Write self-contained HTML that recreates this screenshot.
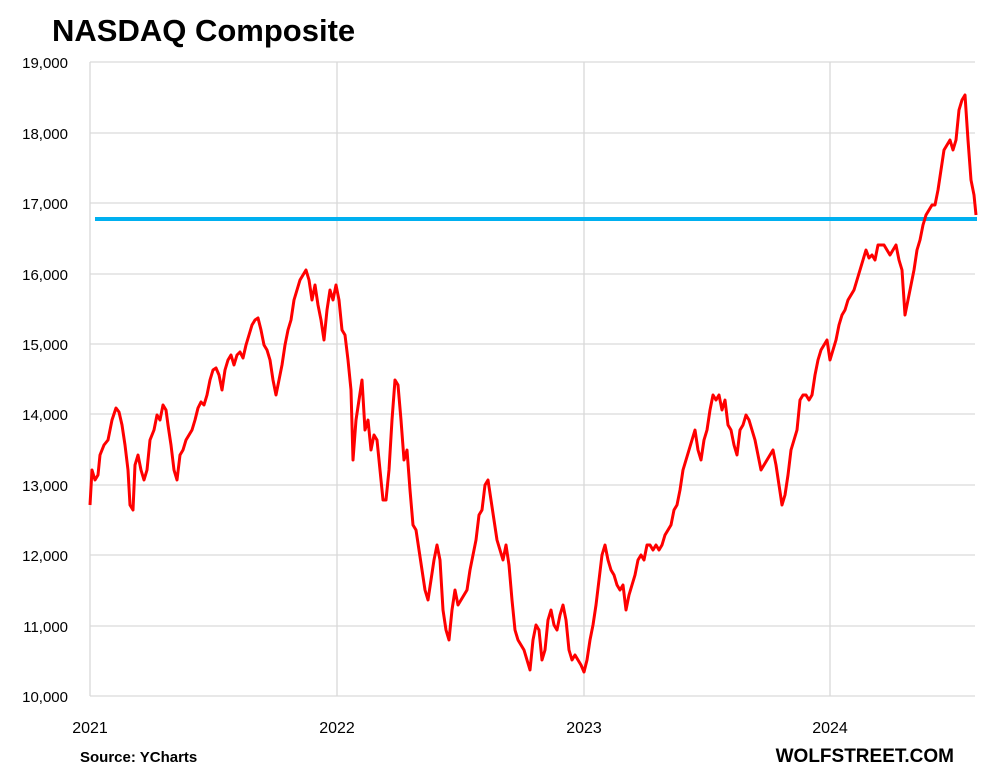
<!DOCTYPE html>
<html><head><meta charset="utf-8"><style>
body{margin:0;background:#fff;}
svg{display:block;font-family:"Liberation Sans",Arial,sans-serif;}
</style></head><body>
<svg width="982" height="777" viewBox="0 0 982 777">
<rect width="982" height="777" fill="#fff"/>
<text x="52" y="41" font-size="31" font-weight="bold" fill="#000">NASDAQ Composite</text>
<g stroke="#d9d9d9" stroke-width="1.3">
<line x1="90" y1="62" x2="975" y2="62"/>
<line x1="90" y1="133" x2="975" y2="133"/>
<line x1="90" y1="203" x2="975" y2="203"/>
<line x1="90" y1="274" x2="975" y2="274"/>
<line x1="90" y1="344" x2="975" y2="344"/>
<line x1="90" y1="414" x2="975" y2="414"/>
<line x1="90" y1="485" x2="975" y2="485"/>
<line x1="90" y1="555" x2="975" y2="555"/>
<line x1="90" y1="626" x2="975" y2="626"/>
<line x1="90" y1="62" x2="90" y2="696"/>
<line x1="337" y1="62" x2="337" y2="696"/>
<line x1="584" y1="62" x2="584" y2="696"/>
<line x1="830" y1="62" x2="830" y2="696"/>
</g>
<line x1="90" y1="696" x2="975" y2="696" stroke="#d9d9d9" stroke-width="1.3"/>
<g font-size="15" fill="#000" text-anchor="end">
<text x="68" y="68">19,000</text>
<text x="68" y="139">18,000</text>
<text x="68" y="209">17,000</text>
<text x="68" y="280">16,000</text>
<text x="68" y="350">15,000</text>
<text x="68" y="420">14,000</text>
<text x="68" y="491">13,000</text>
<text x="68" y="561">12,000</text>
<text x="68" y="632">11,000</text>
<text x="68" y="702">10,000</text>
</g>
<g font-size="16" fill="#000" text-anchor="middle">
<text x="90" y="733">2021</text>
<text x="337" y="733">2022</text>
<text x="584" y="733">2023</text>
<text x="830" y="733">2024</text>
</g>
<line x1="95" y1="219" x2="977" y2="219" stroke="#00b0f0" stroke-width="4"/>
<polyline fill="none" stroke="#ff0000" stroke-width="3" stroke-linejoin="round" points="90,505 92,470 95,480 98,475 100,455 104,445 108,440 112,420 116,408 119,412 122,425 125,445 128,470 130,505 133,510 135,465 138,455 141,470 144,480 147,470 150,440 154,430 157,415 160,420 163,405 166,410 168,425 171,445 174,470 177,480 180,455 183,450 186,440 189,435 192,430 195,420 198,408 201,402 204,405 207,395 210,380 213,370 216,368 219,375 222,390 225,370 228,360 231,355 234,365 237,355 240,352 243,358 246,345 249,335 252,325 255,320 258,318 261,330 264,345 267,350 270,360 273,380 276,395 279,380 282,365 285,345 288,330 291,320 294,300 297,290 300,280 303,275 306,270 309,280 312,300 315,285 318,305 321,320 324,340 327,310 330,290 333,300 336,285 339,300 342,330 345,335 348,360 351,390 353,460 356,420 359,400 362,380 365,430 368,420 371,450 374,435 377,440 380,470 383,500 386,500 389,470 392,420 395,380 398,385 401,420 404,460 407,450 410,490 413,525 416,530 419,550 422,570 425,590 428,600 431,580 434,560 437,545 440,560 443,610 446,630 449,640 452,610 455,590 458,605 461,600 464,595 467,590 470,570 473,555 476,540 479,515 482,510 485,485 488,480 491,500 494,520 497,540 500,550 503,560 506,545 509,565 512,600 515,630 518,640 521,645 524,650 527,660 530,670 533,640 536,625 539,630 542,660 545,650 548,620 551,610 554,625 557,630 560,615 563,605 566,620 569,650 572,660 575,655 578,660 581,665 584,672 587,660 590,640 593,625 596,605 599,580 602,555 605,545 608,560 611,570 614,575 617,585 620,590 623,585 626,610 629,595 632,585 635,575 638,560 641,555 644,560 647,545 650,545 653,550 656,545 659,550 662,545 665,535 668,530 671,525 674,510 677,505 680,490 683,470 686,460 689,450 692,440 695,430 698,450 701,460 704,440 707,430 710,410 713,395 716,400 719,395 722,410 725,400 728,425 731,430 734,445 737,455 740,430 743,425 746,415 749,420 752,430 755,440 758,455 761,470 764,465 767,460 770,455 773,450 776,465 779,485 782,505 785,495 788,475 791,450 794,440 797,430 800,400 803,395 806,395 809,400 812,395 815,375 818,360 821,350 824,345 827,340 830,360 833,350 836,340 839,325 842,315 845,310 848,300 851,295 854,290 857,280 860,270 863,260 866,250 869,258 872,255 875,260 878,245 881,245 884,245 887,250 890,255 893,250 896,245 899,260 902,270 905,315 908,300 911,285 914,270 917,250 920,240 923,225 926,215 929,210 932,205 935,205 938,190 941,170 944,150 947,145 950,140 953,150 956,140 959,110 962,100 965,95 968,140 971,180 974,195 976,215"/>
<text x="80" y="762" font-size="15" font-weight="bold" fill="#000">Source: YCharts</text>
<text x="954" y="762" font-size="19" font-weight="bold" fill="#000" text-anchor="end">WOLFSTREET.COM</text>
</svg>
</body></html>
